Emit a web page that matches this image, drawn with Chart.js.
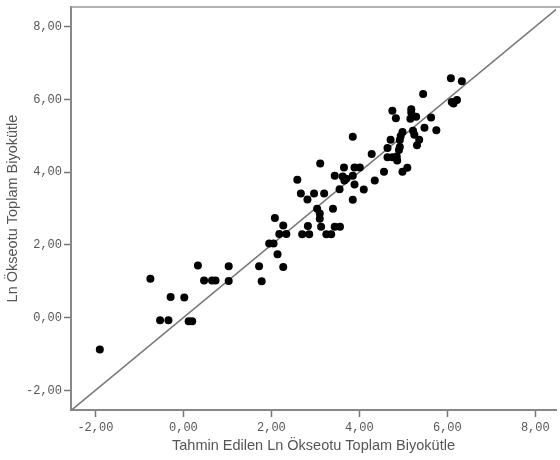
<!DOCTYPE html>
<html>
<head>
<meta charset="utf-8">
<script src="https://cdn.jsdelivr.net/npm/chart.js@4"></script>
<style>
  body { margin: 0; background: #fff; }
  canvas { display: block; }
</style>
</head>
<body>
<canvas id="scatterChart" width="560" height="460"></canvas>
<script>
// values
const predicted = [-1.90, -0.75, -0.53, -0.34, -0.29, 0.02, 0.12, 0.20, 0.33, 0.47,
  0.65, 0.73, 1.03, 1.03, 1.72, 1.78, 1.95, 2.05, 2.14, 2.27,
  2.08, 2.27, 2.18, 2.34, 2.70, 2.86, 3.25, 3.36, 2.59, 2.67,
  2.97, 2.82, 3.20, 3.04, 3.10, 3.10, 3.13, 2.83, 3.40, 3.44,
  3.56, 3.11, 3.85, 3.55, 3.44, 3.65, 3.62, 3.70, 3.66, 3.89,
  4.01, 3.85, 3.89, 4.10, 3.85, 4.28, 4.35, 4.56, 4.64, 4.64,
  4.75, 4.85, 4.86, 4.75, 4.83, 4.98, 4.94, 4.92, 4.71, 4.98,
  5.09, 4.92, 4.90, 5.18, 5.18, 5.16, 5.29, 5.63, 5.48, 5.75,
  5.22, 5.25, 5.36, 5.31, 5.45, 6.08, 6.33, 6.10, 6.22, 6.14];
const observed = [-0.88, 1.07, -0.07, -0.07, 0.57, 0.55, -0.10, -0.10, 1.43, 1.02,
  1.02, 1.02, 1.41, 1.01, 1.41, 1.00, 2.04, 2.04, 1.74, 1.39,
  2.74, 2.53, 2.30, 2.30, 2.29, 2.29, 2.29, 2.29, 3.79, 3.41,
  3.41, 3.25, 3.41, 2.99, 2.86, 2.72, 2.50, 2.52, 2.99, 2.50,
  2.50, 4.24, 4.97, 3.53, 3.90, 4.13, 3.88, 3.82, 3.77, 4.13,
  4.13, 3.90, 3.66, 3.52, 3.24, 4.50, 3.77, 4.01, 4.66, 4.41,
  4.41, 4.43, 4.32, 5.69, 5.48, 5.10, 4.99, 4.88, 4.89, 4.01,
  4.12, 4.69, 4.61, 5.73, 5.64, 5.47, 5.52, 5.50, 5.22, 5.15,
  5.14, 5.03, 4.89, 4.74, 6.15, 6.58, 6.50, 5.93, 5.98, 5.89];
const tickValues = [-2, 0, 2, 4, 6, 8];

const xTitle = "Tahmin Edilen Ln Ökseotu Toplam Biyokütle";
const yTitle = "Ln Ökseotu Toplam Biyokütle";

const xMin = -2.555, xMax = 8.47;
const yMin = -2.54, yMax = 8.54;

const points = predicted.map((x, i) => ({ x: x, y: observed[i] }));
const lo = Math.min(xMin, yMin), hi = Math.max(xMax, yMax);
const identity = [{ x: lo, y: lo }, { x: hi, y: hi }];

const tickFont = { family: "'Liberation Mono', 'Courier New', monospace", size: 12 };
const titleFont = { family: "'Liberation Sans', Arial, sans-serif", size: 14.5 };
const fmt = v => v.toFixed(2).replace(".", ",");

// top frame line of the plot
const frame = {
  id: "frame",
  afterDatasetsDraw(chart) {
    const { ctx, chartArea } = chart;
    ctx.save();
    ctx.strokeStyle = "#999";
    ctx.lineWidth = 1.5;
    ctx.beginPath();
    ctx.moveTo(chartArea.left, chartArea.top);
    ctx.lineTo(chart.width, chartArea.top);
    ctx.stroke();
    ctx.restore();
  }
};

new Chart(document.getElementById("scatterChart").getContext("2d"), {
  type: "scatter",
  data: {
    datasets: [
      {
        type: "line",
        data: identity,
        borderColor: "#777",
        borderWidth: 1.5,
        pointRadius: 0,
        fill: false,
        order: 2
      },
      {
        data: points,
        backgroundColor: "#000",
        borderColor: "#000",
        pointRadius: 4,
        pointBorderWidth: 0,
        order: 1
      }
    ]
  },
  options: {
    responsive: false,
    animation: false,
    layout: { padding: { top: 7, right: -4, left: 0, bottom: 0 } },
    plugins: { legend: { display: false }, tooltip: { enabled: false } },
    scales: {
      x: {
        type: "linear",
        min: xMin,
        max: xMax,
        afterBuildTicks: s => { s.ticks = tickValues.map(v => ({ value: v })); },
        afterFit: s => { s.height = 50; s.paddingLeft = 0; s.paddingRight = 0; },
        ticks: { callback: fmt, font: tickFont, color: "#555", padding: 4, maxRotation: 0 },
        grid: { drawOnChartArea: false, tickLength: 7, tickColor: "#777", tickWidth: 1.5 },
        border: { color: "#888", width: 2 },
        title: { display: true, text: xTitle, font: titleFont, color: "#555", padding: { top: 0, bottom: 5 } }
      },
      y: {
        type: "linear",
        min: yMin,
        max: yMax,
        afterBuildTicks: s => { s.ticks = tickValues.map(v => ({ value: v })); },
        afterFit: s => { s.width = 71; s.paddingTop = 0; s.paddingBottom = 0; },
        ticks: { callback: fmt, font: tickFont, color: "#555", padding: 2 },
        grid: { drawOnChartArea: false, tickLength: 7, tickColor: "#777", tickWidth: 1.5 },
        border: { color: "#888", width: 2 },
        title: { display: true, text: yTitle, font: titleFont, color: "#555", padding: { top: 4, bottom: 0 } }
      }
    }
  },
  plugins: [frame]
});
</script>
</body>
</html>
